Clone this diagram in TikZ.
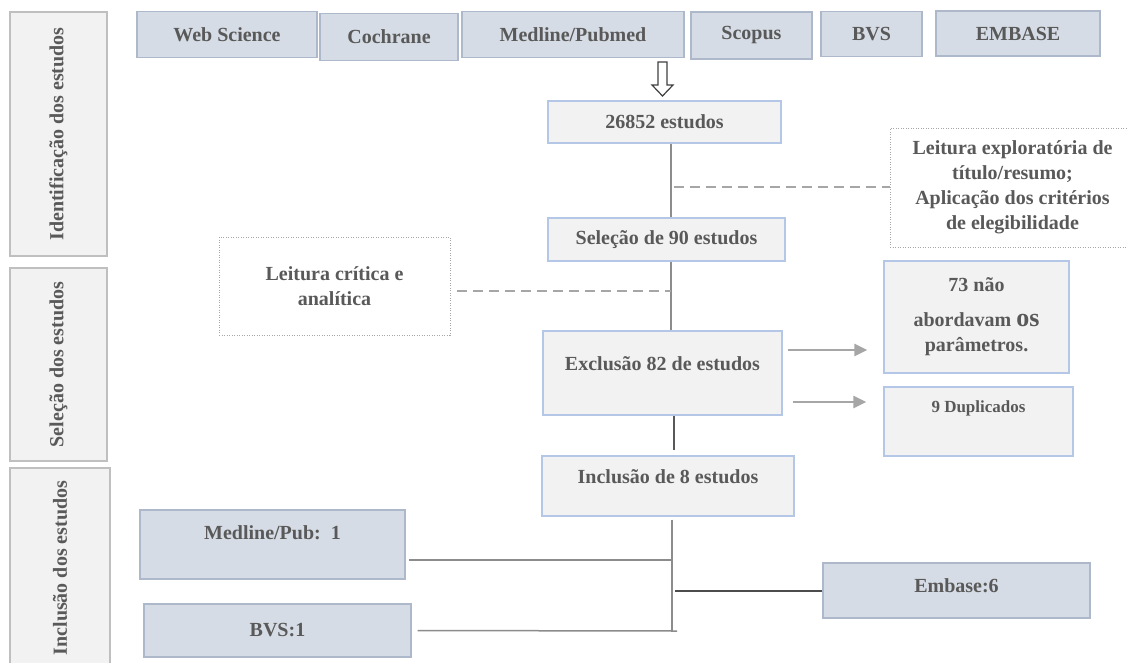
\documentclass[tikz,border=0pt]{standalone}
\usepackage{fontspec}
\setmainfont{Liberation Serif}
\usetikzlibrary{arrows.meta}
\definecolor{boxgray}{HTML}{F2F2F2}
\definecolor{sideline}{HTML}{BFBFBF}
\definecolor{srcfill}{HTML}{D6DCE5}
\definecolor{srcline}{HTML}{ADB9CA}
\definecolor{stepline}{HTML}{B4C7E7}
\definecolor{txtgray}{HTML}{595959}
\definecolor{linkgray}{HTML}{8C8C8C}
\definecolor{dashgray}{HTML}{A6A6A6}
\begin{document}
\begin{tikzpicture}[x=1pt,y=-1pt,
    font=\fontsize{20}{25}\selectfont\bfseries,text=txtgray,
    sidebox/.style={draw=sideline,fill=boxgray,line width=1.3pt,rotate=90,inner sep=0pt},
    srcbox/.style={draw=srcline,fill=srcfill,line width=1.3pt,inner sep=0pt},
    stepbox/.style={draw=stepline,fill=boxgray,line width=1.3pt,inner sep=0pt},
    notebox/.style={draw=dashgray,dash pattern=on 1pt off 1.5pt,line width=0.9pt,inner sep=0pt,align=center},
    link/.style={color=linkgray,line width=1.5pt},
    dashlink/.style={color=dashgray,line width=1.3pt,dash pattern=on 10pt off 6pt},
    grayarrow/.style={color=dashgray,line width=2.6pt,-{Triangle[length=13pt,width=12pt]}}]
      \useasboundingbox (0,0) rectangle (1127,662);
      \fill[white] (0,0) rectangle (1127,662);
      \draw
        (58.5,134) node[sidebox,minimum width=244pt,minimum height=97pt] (ident){Identificação dos estudos}
        (58.5,364.5) node[sidebox,minimum width=193pt,minimum height=97pt] (selec){Seleção dos estudos}
        (60,568) node[sidebox,minimum width=200pt,minimum height=100pt] (inclu){Inclusão dos estudos}
        (227,34.5) node[srcbox,minimum width=180pt,minimum height=46pt] (websci){Web Science}
        (389,37) node[srcbox,minimum width=138pt,minimum height=47pt] (cochr){Cochrane}
        (573,34.5) node[srcbox,minimum width=222pt,minimum height=46pt] (medl){Medline/Pubmed}
        (751.5,35.5) node[srcbox,minimum width=121pt,minimum height=47pt] (scop){Scopus}
        (871.5,34) node[srcbox,minimum width=101pt,minimum height=45pt] (bvs){BVS}
        (1018,33.5) node[srcbox,minimum width=164pt,minimum height=45pt] (emb){EMBASE}
        (664.5,122) node[stepbox,minimum width=233pt,minimum height=42pt] (found){26852 estudos}
        (666.5,239.5) node[stepbox,minimum width=237pt,minimum height=43pt] (sel){Seleção de 90 estudos}
        (662.5,373) node[stepbox,minimum width=239pt,text height=39.5pt,text depth=44.5pt] (excl){Exclusão 82 de estudos}
        (668,486) node[stepbox,minimum width=252pt,text height=27.5pt,text depth=32.5pt] (incl){Inclusão de 8 estudos}
        (976.5,317) node[stepbox,minimum width=185pt,minimum height=112pt,align=center] (noparam){73 não\\[10pt]abordavam {\fontsize{26}{26}\selectfont os}\\parâmetros.}
        (978.5,421.5) node[stepbox,minimum width=189pt,text height=25.5pt,text depth=43.5pt,font=\fontsize{17}{20}\selectfont\bfseries] (dupl){9 Duplicados}
        (272.5,544.5) node[srcbox,minimum width=265pt,text height=29.5pt,text depth=39.5pt] (resmed){Medline/Pub:~~1}
        (277.5,630.5) node[srcbox,minimum width=267pt,minimum height=53pt] (resbvs){BVS:1}
        (956.5,590.5) node[srcbox,minimum width=267pt,text height=29.5pt,text depth=25.5pt] (resemb){Embase:6}
        (334.5,286) node[notebox,minimum width=231pt,minimum height=98pt] (critica){Leitura crítica e\\analítica}
        (1012.5,187.5) node[notebox,minimum width=245pt,minimum height=119pt] (explor){Leitura exploratória de\\título/resumo;\\Aplicação dos critérios\\de elegibilidade};
      \draw[draw=black!75,line width=1.2pt,fill=white]
        (658,62) -- (667,62) -- (667,85) -- (673,85) -- (662.5,96) -- (652,85) -- (658,85) -- cycle;
      \coordinate (spine) at (671,0);
      \coordinate (spinelow) at (674,0);
      \coordinate (hub) at (672,631);
      \coordinate (jmed) at (672,560);
      \coordinate (jemb) at (675,590.5);
      \coordinate (jexp) at (674,187);
      \coordinate (jcrit) at (671,291);
      \coordinate (arrtop) at (0,350);
      \coordinate (arrlow) at (0,402);
      \begin{scope}[link]
        \draw (found.south -| spine) to (sel.north -| spine);
        \draw (sel.south -| spine) to (excl.north -| spine);
        \draw[shorten <=3pt] (incl.south -| hub) to (hub);
        \draw[shorten >=6pt] ([xshift=5pt]hub) to (resbvs.east);
        \draw[shorten >=3pt] (jmed) to (resmed.east |- jmed);
      \end{scope}
      \draw[color=txtgray,line width=2.5pt,shorten >=5pt] (excl.south -| spinelow) to (incl.north -| spinelow);
      \draw[color=black!70,line width=2pt] (jemb) to (resemb.west);
      \begin{scope}[dashlink]
        \draw (jexp) to (explor.west |- jexp);
        \draw[shorten <=7pt] (critica.east |- jcrit) to (jcrit);
      \end{scope}
      \begin{scope}[grayarrow]
        \draw[shorten <=5pt,shorten >=16pt] (excl.east |- arrtop) to (noparam.west |- arrtop);
        \draw[shorten <=10pt,shorten >=17pt] (excl.east |- arrlow) to (dupl.west |- arrlow);
      \end{scope}
    \end{tikzpicture}
\end{document}
